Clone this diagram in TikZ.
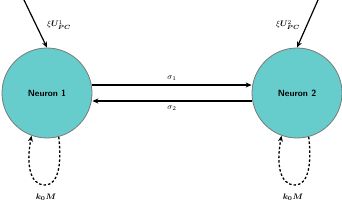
\documentclass[tikz,border=0pt]{standalone}
\usepackage{bm}
\usetikzlibrary{arrows.meta}
\definecolor{neurofill}{HTML}{66CCCC}
\definecolor{neuroedge}{HTML}{7A7A7A}
\begin{document}
\begin{tikzpicture}[x=1pt,y=-1pt,
  neuron/.style={circle,draw=neuroedge,fill=neurofill,line width=0.8pt,minimum size=90pt,inner sep=0pt,font=\sffamily\bfseries\small},
  conn/.style={line width=1.2pt,-{Stealth[length=6pt,width=5pt]}},
  loopc/.style={line width=1.3pt,dashed,dash pattern=on 2.5pt off 2pt,-{Stealth[length=6pt,width=5pt]}},
  lbl/.style={font=\footnotesize,inner sep=1pt}]
\useasboundingbox (0,0) rectangle (342,203);
\node[neuron] (n1) at (47,93) {Neuron 1};
\node[neuron] (n2) at (297,93) {Neuron 2};
\coordinate (i1) at (24,0);
\coordinate (i2) at (318,0);
\draw[conn] (i1) -- (n1.north);
\draw[conn] (i2) -- (n2.north);
\node[lbl] (x1) at (59,25) {$\xi\bm{U}^{1}_{\bm{PC}}$};
\node[lbl] (x2) at (288,25) {$\xi\bm{U}^{2}_{\bm{PC}}$};
\draw[conn] ([yshift=8pt]n1.east) -- node[lbl,above=3pt] (s1) {$\sigma_1$} ([yshift=8pt]n2.west);
\draw[conn] ([yshift=-8pt]n2.west) -- node[lbl,below=3pt] (s2) {$\sigma_2$} ([yshift=-8pt]n1.east);
\draw[loopc] (n1.-75) .. controls (62,165) and (58,185) .. (45,185) .. controls (30,185) and (26,165) .. (n1.-110);
\draw[loopc] (n2.-75) .. controls (312,165) and (308,185) .. (295,185) .. controls (280,185) and (276,165) .. (n2.-110);
\node[lbl] (k1) at (46,197) {$\bm{k_0M}$};
\node[lbl] (k2) at (293,197) {$\bm{k_0M}$};
\end{tikzpicture}
\end{document}
